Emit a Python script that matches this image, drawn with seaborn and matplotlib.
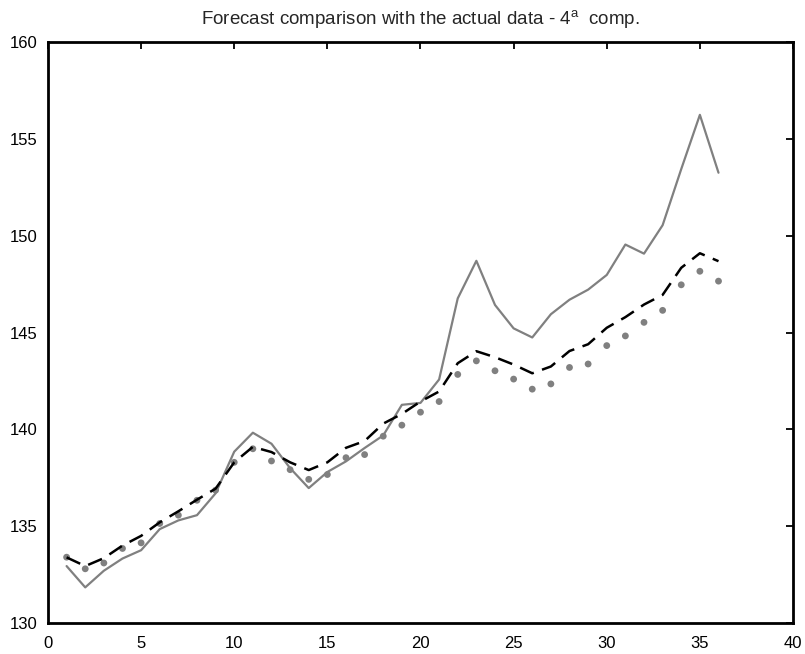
import numpy as np
import pandas as pd
import matplotlib
matplotlib.use("Agg")
import matplotlib.pyplot as plt
import seaborn as sns

periods = list(range(1, 37))
actual = [132.94, 131.84, 132.70, 133.33, 133.76, 134.85, 135.30, 135.57, 136.70, 138.85,
          139.83, 139.26, 138.00, 136.97, 137.80, 138.35, 139.04, 139.69, 141.27, 141.37,
          142.58, 146.77, 148.71, 146.43, 145.22, 144.75, 145.95, 146.70, 147.22, 147.98,
          149.55, 149.08, 150.55, 153.45, 156.25, 153.26]
forecast_dashed = [133.39, 132.94, 133.35, 134.00, 134.50, 135.20, 135.77, 136.37, 136.94, 138.30,
                   139.10, 138.83, 138.30, 137.90, 138.30, 139.05, 139.40, 140.30, 140.80, 141.44,
                   141.96, 143.42, 144.04, 143.73, 143.35, 142.90, 143.25, 144.05, 144.40, 145.25,
                   145.80, 146.45, 146.95, 148.35, 149.10, 148.69]
forecast_dots = [133.40, 132.80, 133.10, 133.85, 134.14, 135.14, 135.57, 136.34, 136.86, 138.30,
                 139.00, 138.37, 137.92, 137.42, 137.67, 138.54, 138.70, 139.65, 140.22, 140.89,
                 141.44, 142.84, 143.54, 143.03, 142.60, 142.08, 142.35, 143.20, 143.38, 144.33,
                 144.83, 145.53, 146.15, 147.47, 148.17, 147.66]
x_ticks = [0, 5, 10, 15, 20, 25, 30, 35, 40]
y_ticks = [130, 135, 140, 145, 150, 155, 160]

df = pd.DataFrame({"t": periods, "actual": actual, "f1": forecast_dashed, "f2": forecast_dots})

sns.set_style("white")
plt.rcParams["font.family"] = ["Liberation Sans", "DejaVu Sans"]
plt.rcParams["mathtext.fontset"] = "custom"
plt.rcParams["mathtext.rm"] = "Liberation Sans"
plt.rcParams["mathtext.default"] = "regular"

fig = plt.figure(figsize=(8.05, 6.54), dpi=100)
ax = fig.add_axes([0.0596, 0.0474, 0.9255, 0.888])

sns.lineplot(data=df, x="t", y="actual", ax=ax, color="#808080", linewidth=1.6)
sns.lineplot(data=df, x="t", y="f1", ax=ax, color="black", linewidth=1.8,
             linestyle=(0, (6, 3.5)))
sns.scatterplot(data=df, x="t", y="f2", ax=ax, color="#808080", s=24, edgecolor="none",
                linewidth=0)

ax.set_xlim(0, 40)
ax.set_ylim(130, 160)
ax.set_xticks(x_ticks)
ax.set_yticks(y_ticks)
ax.set_xticklabels([str(v) for v in x_ticks])
ax.set_yticklabels([str(v) for v in y_ticks])
ax.set_xlabel("")
ax.set_ylabel("")
ax.tick_params(direction="in", length=5, width=1.3, top=True, right=True,
               labelsize=12, colors="black")
ax.tick_params(axis="x", pad=9)
ax.tick_params(axis="y", pad=7.5)
for s in ax.spines.values():
    s.set_visible(True)
    s.set_color("black")
    s.set_linewidth(2)
ax.set_title("Forecast comparison with the actual data - 4$^{a}$  comp.",
             fontsize=13.5, pad=13)

fig.savefig("out.png", dpi=100)
